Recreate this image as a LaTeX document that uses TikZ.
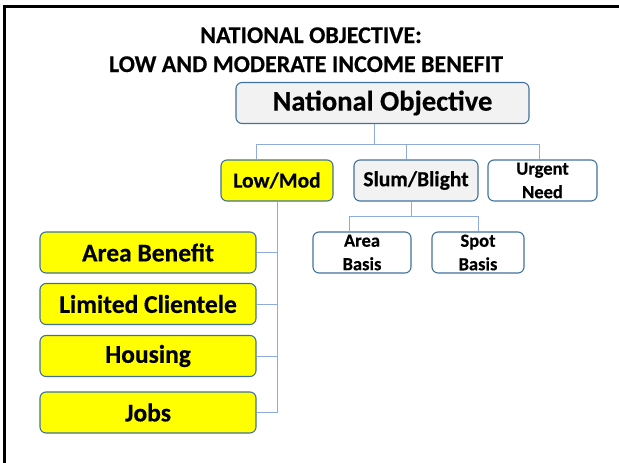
\documentclass[tikz,border=0pt]{standalone}
\usepackage{fontspec}
\setmainfont{Carlito}[BoldFeatures={FakeBold=0.4}]
\usepackage{tikz}
\definecolor{myborder}{RGB}{65,113,156}
\definecolor{mylink}{RGB}{143,170,220}
\definecolor{mygray}{RGB}{242,242,242}
\definecolor{myyellow}{RGB}{255,255,0}
\newcommand{\heightbox}{41pt}
\newcommand{\widthleaf}{216pt}
\tikzset{
    common/.style={draw=myborder, line width=1.1pt, rounded corners=6pt, minimum height=\heightbox, inner sep=1pt, align=center},
    topbox/.style={common, fill=mygray, minimum width=293pt, font=\fontsize{28.5}{30}\selectfont\bfseries},
    midbox/.style={common, font=\fontsize{21.5}{24}\selectfont\bfseries},
    smallbox/.style={common, fill=white, font=\fontsize{18.5}{23.5}\selectfont\bfseries},
    leafbox/.style={common, fill=myyellow, minimum width=\widthleaf, font=\fontsize{25.5}{28}\selectfont\bfseries},
    link/.style={mylink, line width=1pt},
    heading/.style={anchor=base, inner sep=0pt, font=\fontsize{24}{28}\selectfont\bfseries}
}

\begin{document}
\begin{tikzpicture}[x=1pt, y=-1pt]
        \useasboundingbox (0,0) rectangle (619,463);
        \draw[line width=3pt] (4,463) -- (4,6) -- (619,6);

        \node[heading] (title1) at (311,43) {NATIONAL OBJECTIVE:};
        \node[heading] (title2) at (306,72) {LOW AND MODERATE INCOME BENEFIT};

        \node[topbox] (natobj) at (382.5,103) {National Objective};

        \path
            (277,180.5) node[midbox, fill=myyellow, minimum width=112pt] (lowmod) {Low/Mod}
            to ++(139,0) node[midbox, fill=mygray, minimum width=124pt] (slum) {Slum/Blight}
            to ++(126.5,0) node[smallbox, minimum width=109pt] (urgent) {Urgent\\Need};

        \path
            (362,252.5) node[smallbox, minimum width=98pt] (areabasis) {Area\\Basis}
            to ++(116,0) node[smallbox, minimum width=92pt] (spotbasis) {Spot\\Basis};

        \path
            (148,252.5) node[leafbox] (areaben) {Area Benefit}
            to ++(0,51.5) node[leafbox] (limited) {Limited Clientele}
            to ++(0,52) node[leafbox] (housing) {Housing}
            to ++(0,56.5) node[leafbox] (jobs) {Jobs};

        \coordinate (bus) at (374,144);
        \coordinate (bus-l) at (256,144);
        \coordinate (bus-m) at (406,144);
        \coordinate (bus-r) at (539,144);
        \draw[link] (bus |- natobj.south) -- (bus);
        \draw[link] (bus-l |- lowmod.north) -- (bus-l) -- (bus-r) -- (bus-r |- urgent.north);
        \draw[link] (bus-m) -- (bus-m |- slum.north);

        \coordinate (sub) at (411,216);
        \coordinate (sub-l) at (349,216);
        \coordinate (sub-r) at (478,216);
        \draw[link] (sub |- slum.south) -- (sub);
        \draw[link] (sub-l |- areabasis.north) -- (sub-l) -- (sub-r) -- (spotbasis.north);

        \draw[link] (lowmod.south) -- (lowmod.south |- jobs.east) -- (jobs.east);
        \foreach \leaf in {areaben, limited, housing}
            \draw[link] (\leaf.east) -- (\leaf.east -| lowmod.south);
    \end{tikzpicture}
\end{document}
